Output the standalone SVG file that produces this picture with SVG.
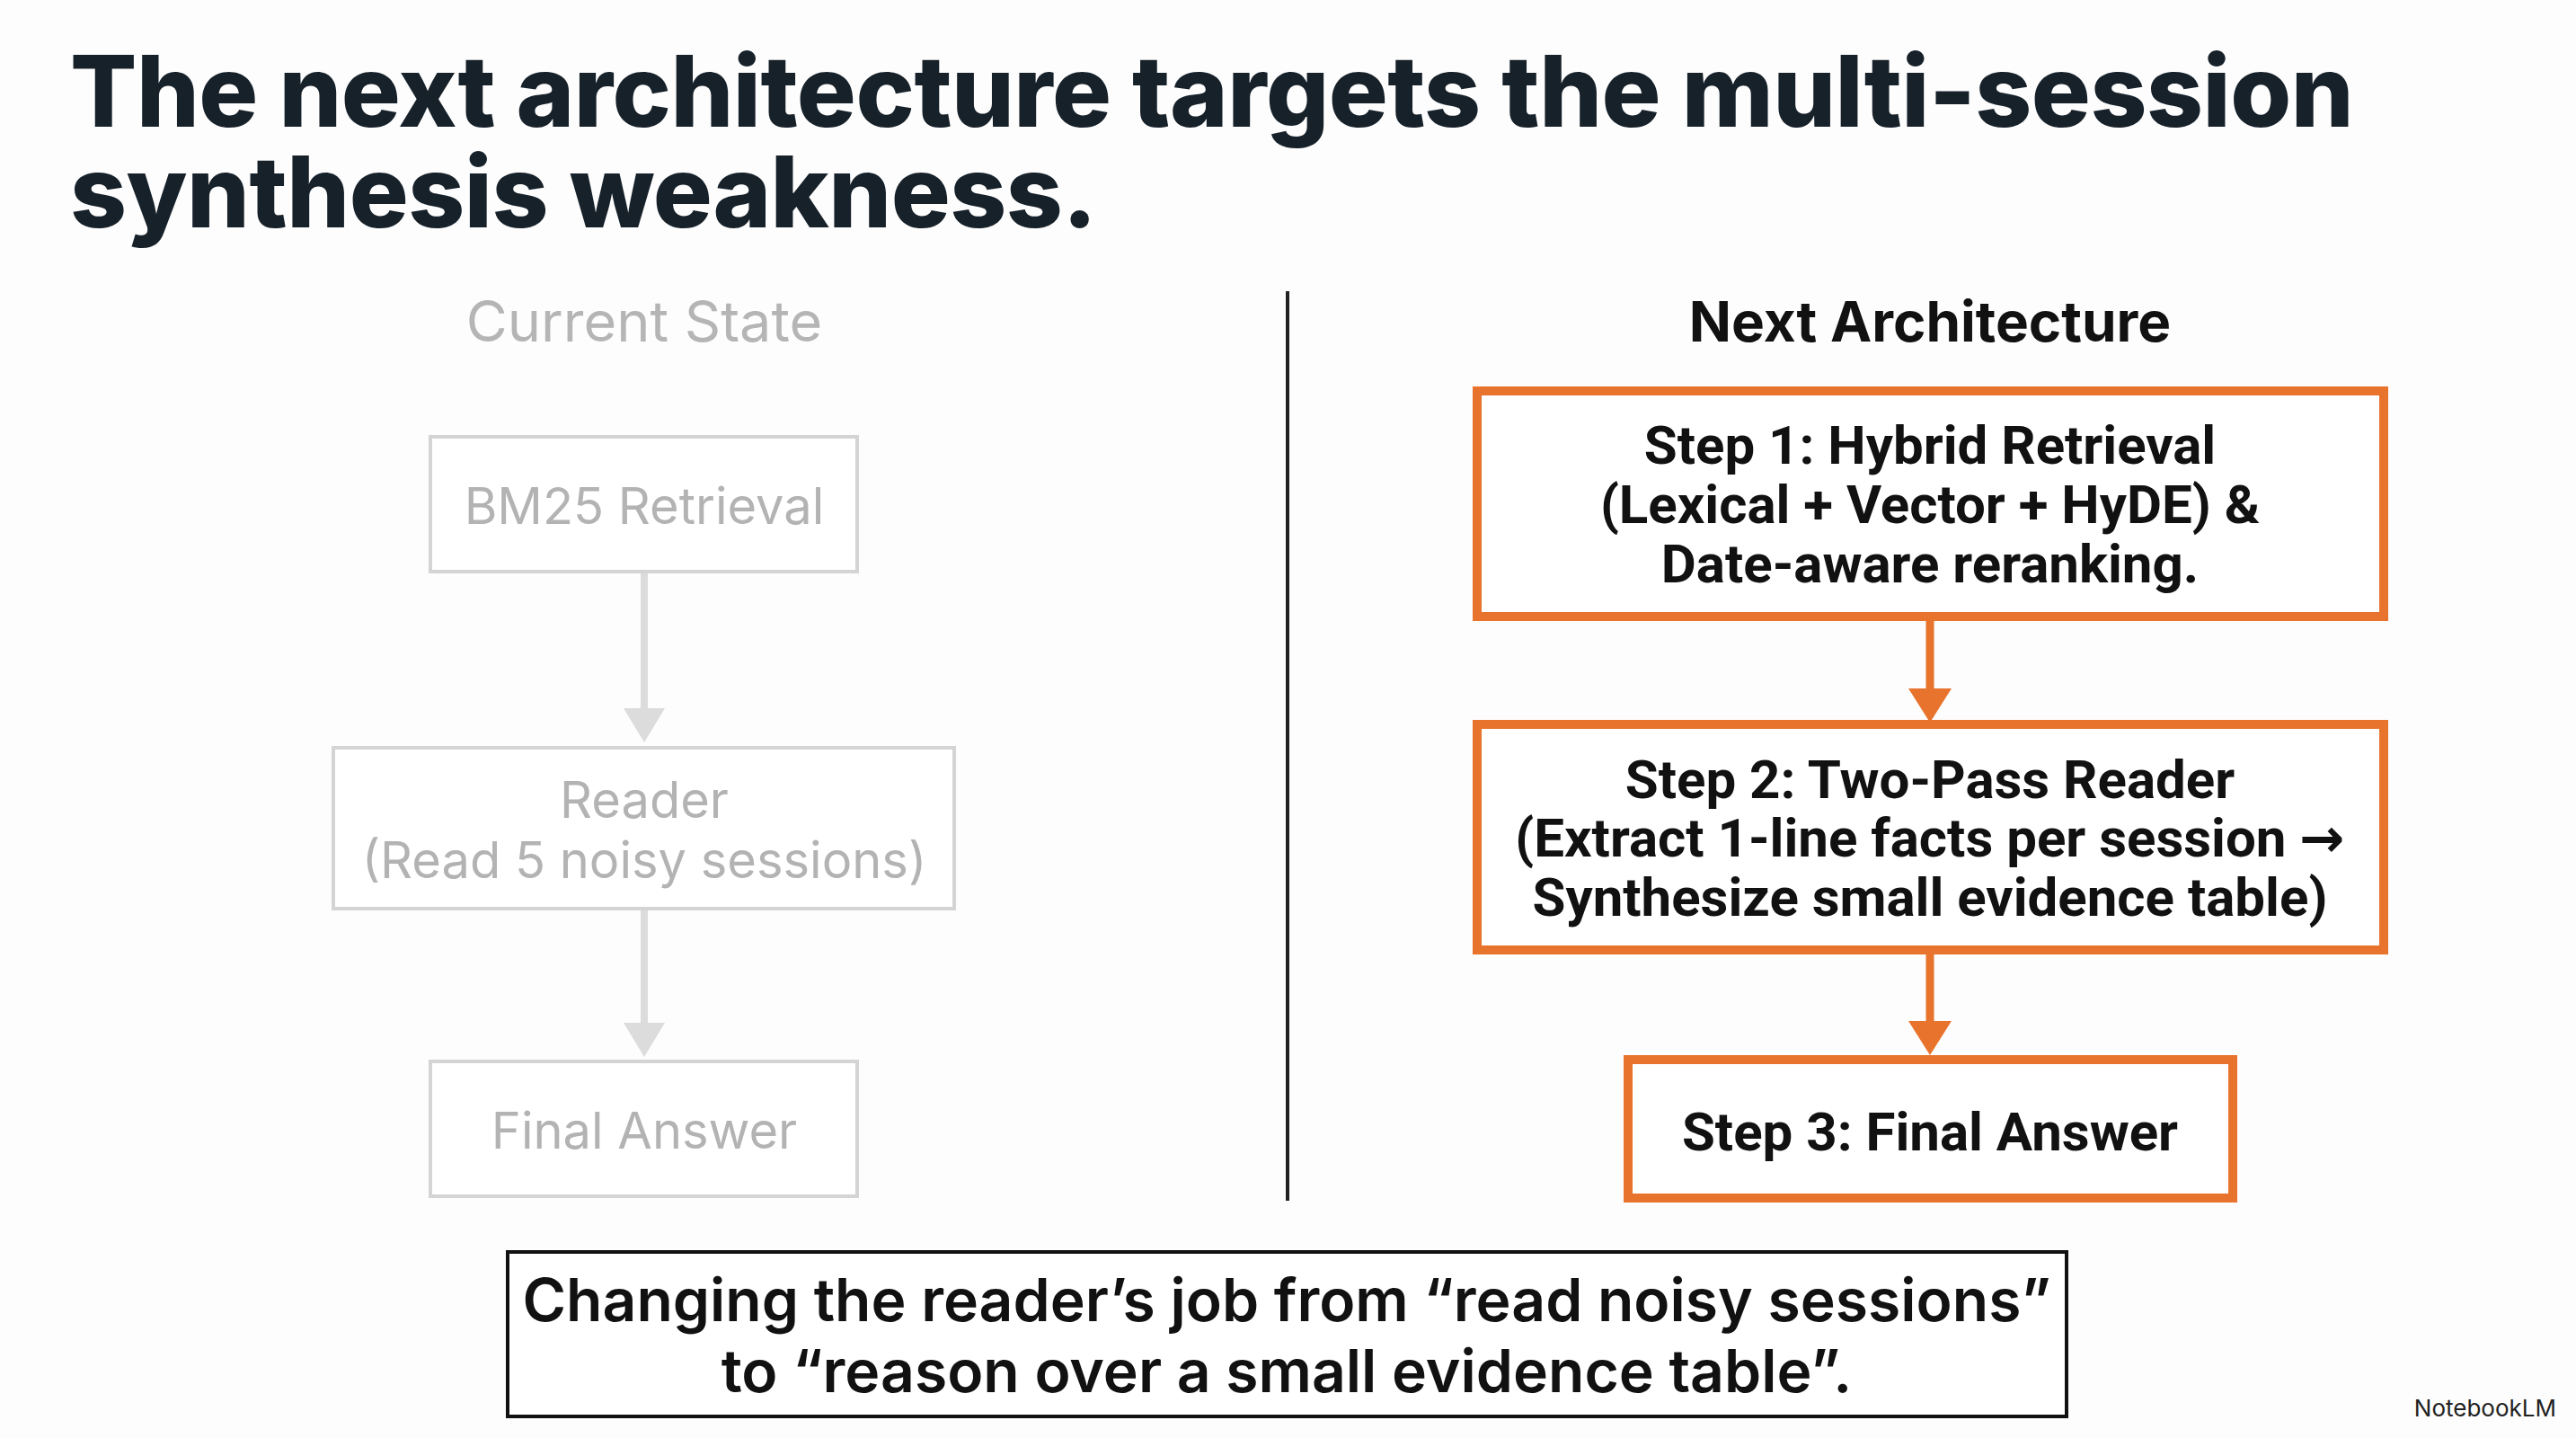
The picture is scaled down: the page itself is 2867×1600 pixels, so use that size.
<svg xmlns="http://www.w3.org/2000/svg" width="2867" height="1600" viewBox="0 0 2867 1600">
<style>
.t{font-family:Inter,"Liberation Sans",sans-serif}
.g rect{fill:#fff;stroke:#d4d4d4;stroke-width:4}
.g text{fill:#b3b3b3;font-size:56px;text-anchor:middle}
.o rect{fill:#fff;stroke:#E8732C;stroke-width:10}
.o text{fill:#111;font-size:60px;font-weight:700;text-anchor:middle;font-family:Roboto,"Liberation Sans",sans-serif}
.ar{font-family:"DejaVu Sans",sans-serif}
</style>
<rect width="2867" height="1600" fill="#fdfdfd"/>
<text class="t" x="78" y="141" font-size="110" font-weight="800" fill="#17212a" letter-spacing="-0.5">The next architecture targets the multi-session</text>
<text class="t" x="78" y="253" font-size="110" font-weight="800" fill="#17212a" letter-spacing="-0.5">synthesis weakness.</text>
<text class="t" x="717" y="380" font-size="63" fill="#b5b5b5" text-anchor="middle">Current State</text>
<text class="t" x="2148" y="380" font-size="62" font-weight="700" fill="#111" text-anchor="middle">Next Architecture</text>
<line x1="1433" y1="324" x2="1433" y2="1336" stroke="#222" stroke-width="4"/>
<g id="connectors">
<line x1="717" y1="636" x2="717" y2="790" stroke="#dcdcdc" stroke-width="8"/>
<path d="M694,788 L740,788 L717,826 Z" fill="#dcdcdc"/>
<line x1="717" y1="1011" x2="717" y2="1140" stroke="#dcdcdc" stroke-width="8"/>
<path d="M694,1138 L740,1138 L717,1176 Z" fill="#dcdcdc"/>
<line x1="2148" y1="690" x2="2148" y2="770" stroke="#E8732C" stroke-width="9"/>
<path d="M2124,766 L2172,766 L2148,804 Z" fill="#E8732C"/>
<line x1="2148" y1="1061" x2="2148" y2="1140" stroke="#E8732C" stroke-width="9"/>
<path d="M2124,1136 L2172,1136 L2148,1174 Z" fill="#E8732C"/>
</g>
<g id="bm25" class="g t"><rect x="479" y="486" width="475" height="150"/><text x="717" y="583">BM25 Retrieval</text></g>
<g id="reader" class="g t"><rect x="371" y="832" width="691" height="179"/><text x="717" y="910">Reader</text><text x="717" y="977">(Read 5 noisy sessions)</text></g>
<g id="final" class="g t"><rect x="479" y="1181" width="475" height="150"/><text x="717" y="1278">Final Answer</text></g>
<g id="step1" class="o"><rect x="1644" y="435" width="1009" height="251"/><text x="2148" y="516">Step 1: Hybrid Retrieval</text><text x="2148" y="582">(Lexical + Vector + HyDE) &amp;</text><text x="2148" y="648">Date-aware reranking.</text></g>
<g id="step2" class="o"><rect x="1644" y="806" width="1009" height="251"/><text x="2148" y="888">Step 2: Two-Pass Reader</text><text x="2148" y="953">(Extract 1-line facts per session <tspan class="ar">→</tspan></text><text x="2148" y="1019">Synthesize small evidence table)</text></g>
<g id="step3" class="o"><rect x="1812" y="1179" width="673" height="154"/><text x="2148" y="1280">Step 3: Final Answer</text></g>
<g id="note"><rect x="565" y="1393" width="1735" height="183" fill="#fff" stroke="#111" stroke-width="4"/>
<text class="t" x="1432" y="1470" font-size="66" font-weight="600" fill="#111" text-anchor="middle">Changing the reader’s job from “read noisy sessions”</text>
<text class="t" x="1432" y="1549" font-size="66" font-weight="600" fill="#111" text-anchor="middle">to “reason over a small evidence table”.</text></g>
<text class="t" x="2845" y="1576" font-size="26" fill="#222" text-anchor="end">NotebookLM</text>
</svg>
